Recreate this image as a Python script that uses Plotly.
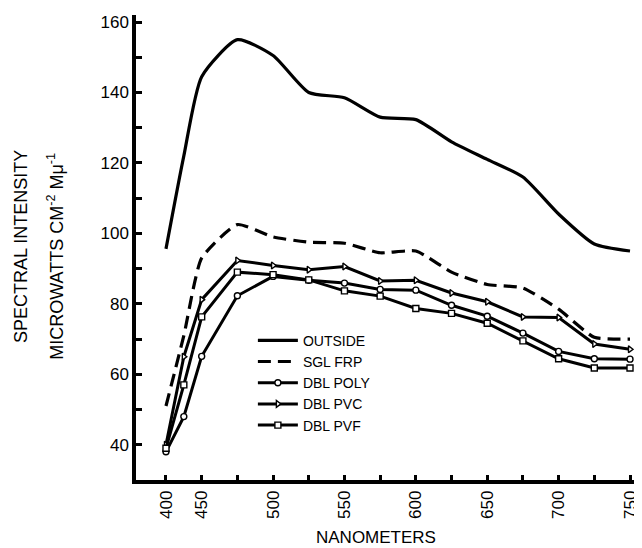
import plotly.graph_objects as go

# ---- data ----
wavelength_nm = [400, 425, 450, 475, 500, 525, 550, 575, 600, 625, 650, 675, 700, 725, 750]
outside = [95.6, 122, 144.5, 155, 150.5, 140, 138.5, 133, 132.3, 126, 121, 116, 105.5, 97, 95]
sgl_frp = [51, 71, 93, 102.5, 99, 97.5, 97.2, 94.5, 95, 89, 85.5, 84.5, 78.5, 70.5, 70]
dbl_poly = [38, 48, 65.1, 82.3, 87.8, 86.7, 85.9, 84.1, 83.9, 79.6, 76.5, 71.7, 66.5, 64.4, 64.3]
dbl_pvc = [40, 65, 81.2, 92.3, 90.9, 89.7, 90.6, 86.5, 86.7, 83.1, 80.6, 76.3, 76.1, 68.6, 67.1]
dbl_pvf = [39, 57, 76.3, 89, 88.3, 86.8, 83.7, 82.2, 78.7, 77.3, 74.5, 69.5, 64.4, 61.8, 61.8]

x_labeled = [400, 450, 500, 550, 600, 650, 700, 750]
x_minor_nm = [475, 525, 575, 625, 675, 725]
y_labeled = [40, 60, 80, 100, 120, 140, 160]
y_minor = [50, 70, 90, 110, 130, 150]


def axis_pos(nm):
    # the original axis is compressed (broken) between 400 and 450 nm
    return nm if nm >= 450 else 450 - (450 - nm) / 2


xs = [axis_pos(v) for v in wavelength_nm]
FONT = "Liberation Sans"

fig = go.Figure()
fig.add_trace(go.Scatter(x=xs, y=outside, name="OUTSIDE", mode="lines",
                         line=dict(color="black", width=3.2, shape="spline", smoothing=0.6)))
fig.add_trace(go.Scatter(x=xs, y=sgl_frp, name="SGL FRP", mode="lines",
                         line=dict(color="black", width=3.2, dash="13px,7px", shape="spline", smoothing=0.5)))
mk = dict(size=6, color="white", line=dict(color="black", width=1.4))
fig.add_trace(go.Scatter(x=xs, y=dbl_poly, name="DBL POLY", mode="lines+markers",
                         line=dict(color="black", width=3), marker=dict(symbol="circle", **mk)))
fig.add_trace(go.Scatter(x=xs, y=dbl_pvc, name="DBL PVC", mode="lines+markers",
                         line=dict(color="black", width=3), marker=dict(symbol="triangle-right", **mk)))
fig.add_trace(go.Scatter(x=xs, y=dbl_pvf, name="DBL PVF", mode="lines+markers",
                         line=dict(color="black", width=3), marker=dict(symbol="square", **mk)))

tick_common = dict(ticks="inside", tickwidth=2.5, tickcolor="black")

fig.update_layout(
    width=642, height=548,
    margin=dict(l=128, r=8, t=5, b=76),
    paper_bgcolor="white", plot_bgcolor="white",
    font=dict(family=FONT, color="black", size=16),
    showlegend=True,
    legend=dict(x=0.231, y=0.334, xanchor="left", yanchor="top",
                font=dict(size=14, family=FONT), bgcolor="rgba(0,0,0,0)",
                tracegroupgap=0, itemwidth=40),
    xaxis=dict(range=[404, 758.4], showgrid=False, zeroline=False,
               showline=True, linecolor="black", linewidth=3.5,
               tickmode="array",
               tickvals=[axis_pos(v) for v in x_labeled],
               ticktext=[str(v) for v in x_labeled],
               ticklen=5, **tick_common,
               minor=dict(tickmode="array", tickvals=[axis_pos(v) for v in x_minor_nm],
                          ticks="inside", ticklen=5, tickwidth=2.5, tickcolor="black"),
               tickangle=-90, tickfont=dict(size=17, family=FONT)),
    yaxis=dict(range=[30, 162], showgrid=False, zeroline=False,
               showline=True, linecolor="black", linewidth=3.5,
               tickmode="array", tickvals=y_labeled,
               ticktext=[str(v) for v in y_labeled],
               ticklen=6, **tick_common,
               minor=dict(tickmode="array", tickvals=y_minor,
                          ticks="inside", ticklen=6, tickwidth=2.5, tickcolor="black"),
               tickfont=dict(size=17, family=FONT)),
)

fig.add_annotation(text="NANOMETERS", xref="paper", yref="paper", x=0.474, y=0,
                   xanchor="center", yanchor="middle",
                   yshift=-57, showarrow=False, font=dict(size=17, family=FONT))
fig.add_annotation(text="SPECTRAL INTENSITY", xref="paper", yref="paper",
                   x=0, xshift=-115, y=0.501, xanchor="center", yanchor="middle",
                   textangle=-90, showarrow=False,
                   font=dict(size=18, family=FONT))
fig.add_annotation(text="MICROWATTS CM<sup>-2</sup> Mμ<sup>-1</sup>", xref="paper", yref="paper",
                   x=0, xshift=-80, y=0.480, xanchor="center", yanchor="middle",
                   textangle=-90, showarrow=False,
                   font=dict(size=18, family=FONT))

fig.write_html("out.html")
